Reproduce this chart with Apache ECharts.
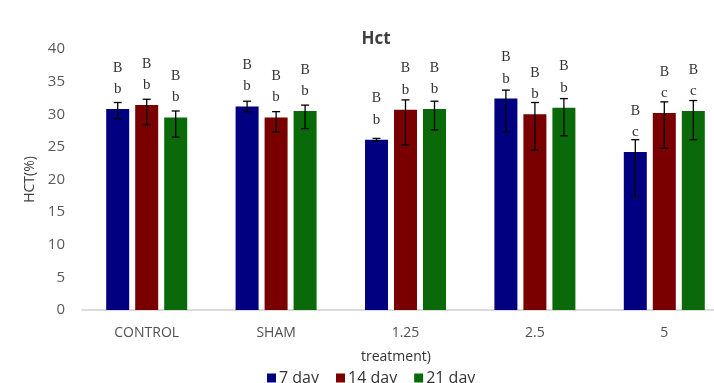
<!DOCTYPE html>
<html>
<head>
<meta charset="utf-8">
<script src="https://cdn.jsdelivr.net/npm/echarts@6/dist/echarts.min.js"></script>
<style>html,body{margin:0;padding:0;background:#fff;}#c{width:714px;height:383px;}</style>
</head>
<body>
<div id="c"></div>
<script>
const categories = ['CONTROL', 'SHAM', '1.25', '2.5', '5'];
const seriesNames = ['7 day', '14 day', '21 day'];
const yTicks = [0, 5, 10, 15, 20, 25, 30, 35, 40];

const day7  = [30.8, 31.2, 26.1, 32.4, 24.2];
const day14 = [31.4, 29.5, 30.7, 30.0, 30.2];
const day21 = [29.5, 30.5, 30.8, 31.0, 30.5];

// error bar extents (plus / minus)
const day7Plus   = [1.0, 0.8, 0.2, 1.3, 1.9];
const day7Minus  = [1.5, 0.8, 0.2, 5.1, 6.8];
const day14Plus  = [0.9, 0.9, 1.5, 1.8, 1.7];
const day14Minus = [3.0, 2.2, 5.4, 5.5, 5.4];
const day21Plus  = [1.0, 0.9, 1.2, 1.4, 1.6];
const day21Minus = [3.0, 2.7, 3.2, 4.3, 4.4];

// significance letters
const day7Upper  = ['B', 'B', 'B', 'B', 'B'];
const day7Lower  = ['b', 'b', 'b', 'b', 'c'];
const day14Upper = ['B', 'B', 'B', 'B', 'B'];
const day14Lower = ['b', 'b', 'b', 'b', 'c'];
const day21Upper = ['B', 'B', 'B', 'B', 'B'];
const day21Lower = ['b', 'b', 'b', 'b', 'c'];

const colors = ['#000080', '#7a0000', '#0a6a0a'];
const values = [day7, day14, day21];
const plus = [day7Plus, day14Plus, day21Plus];
const minus = [day7Minus, day14Minus, day21Minus];
const upper = [day7Upper, day14Upper, day21Upper];
const lower = [day7Lower, day14Lower, day21Lower];

const BAR_W = 23, BAR_GAP = 6;

const chart = echarts.init(document.getElementById('c'), null, {renderer: 'canvas'});

const series = [];
values.forEach((vals, k) => {
  series.push({
    name: seriesNames[k],
    type: 'bar',
    data: vals,
    barWidth: BAR_W,
    barGap: (BAR_GAP / BAR_W * 100) + '%',
    itemStyle: {color: colors[k]},
    z: 2
  });
});
values.forEach((vals, k) => {
  series.push({
    type: 'custom',
    name: seriesNames[k] + ' err',
    data: vals.map((v, i) => [i, v, v + plus[k][i], v - minus[k][i]]),
    z: 5,
    silent: true,
    encode: {x: 0, y: [1, 2, 3]},
    renderItem: function (params, api) {
      const i = api.value(0);
      const off = (k - 1) * (BAR_W + BAR_GAP);
      const top = api.coord([i, api.value(1)]);
      const hi = api.coord([i, api.value(2)]);
      const lo = api.coord([i, api.value(3)]);
      const x = hi[0] + off;
      const cap = 4;
      const ls = {stroke: '#000', lineWidth: 1.3};
      const d = params.dataIndex;
      return {
        type: 'group',
        children: [
          {type: 'line', shape: {x1: x, y1: hi[1], x2: x, y2: lo[1]}, style: ls},
          {type: 'line', shape: {x1: x - cap, y1: hi[1], x2: x + cap, y2: hi[1]}, style: ls},
          {type: 'line', shape: {x1: x - cap, y1: lo[1], x2: x + cap, y2: lo[1]}, style: ls},
          {type: 'text', style: {text: upper[k][d], x: x, y: top[1] - 41, align: 'center', verticalAlign: 'middle', fontFamily: 'Liberation Serif', fontSize: 14, fill: '#333'}},
          {type: 'text', style: {text: lower[k][d], x: x, y: top[1] - 20, align: 'center', verticalAlign: 'middle', fontFamily: 'Liberation Serif', fontSize: 15, fill: '#333'}}
        ]
      };
    }
  });
});

chart.setOption({
  animation: false,
  backgroundColor: '#fff',
  title: {
    text: 'Hct',
    left: 371,
    top: 26,
    textAlign: 'center',
    textStyle: {fontFamily: 'Open Sans', fontSize: 17, fontWeight: 'bold', color: '#404040'}
  },
  legend: {
    data: seriesNames,
    left: 262,
    top: 365,
    icon: 'rect',
    itemWidth: 9,
    itemHeight: 9,
    itemGap: 17,
    textStyle: {fontFamily: 'Open Sans', fontSize: 16, color: '#333', padding: [0, 0, 0, -2]}
  },
  grid: {left: 82, top: 49, right: -15, bottom: 73, containLabel: false, outerBoundsMode: 'none'},
  xAxis: {
    type: 'category',
    data: categories,
    axisLine: {lineStyle: {color: '#d0d0d0', width: 1.5}},
    axisTick: {show: false},
    axisLabel: {fontFamily: 'Open Sans', fontSize: 14, color: '#505050', margin: 16},
    splitLine: {show: false}
  },
  yAxis: {
    type: 'value',
    min: yTicks[0],
    max: yTicks[yTicks.length - 1],
    interval: yTicks[1] - yTicks[0],
    name: 'HCT(%)',
    nameLocation: 'middle',
    nameGap: 45,
    nameRotate: 90,
    nameTextStyle: {fontFamily: 'Open Sans', fontSize: 14, color: '#404040'},
    axisLine: {show: false},
    axisTick: {show: false},
    splitLine: {show: false},
    axisLabel: {fontFamily: 'Open Sans', fontSize: 15, color: '#595959', margin: 17}
  },
  graphic: [{
    type: 'text',
    left: 361,
    top: 350,
    style: {text: 'treatment)', fontFamily: 'Open Sans', fontSize: 14, fill: '#333'}
  }],
  series: series
});
</script>
</body>
</html>
